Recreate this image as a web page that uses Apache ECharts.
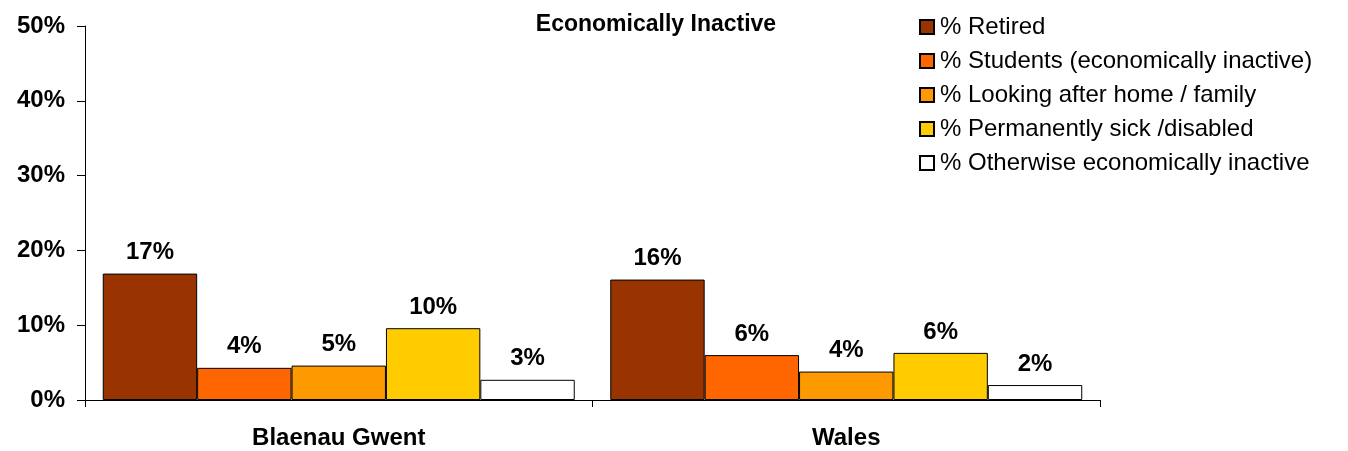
<!DOCTYPE html>
<html><head><meta charset="utf-8">
<script src="https://cdn.jsdelivr.net/npm/echarts@6/dist/echarts.min.js"></script>
<style>html,body{margin:0;padding:0;background:#fff}#c{width:1348px;height:451px}</style>
</head><body><div id="c"></div>
<script>
const categories = ['Blaenau Gwent', 'Wales'];
const seriesNames = ['% Retired', '% Students (economically inactive)', '% Looking after home / family', '% Permanently sick /disabled', '% Otherwise economically inactive'];
const retired = [16.9, 16.1];
const students = [4.3, 6.0];
const lookingAfter = [4.6, 3.8];
const sick = [9.6, 6.3];
const otherwise = [2.7, 2.0];
const yTicks = [0, 10, 20, 30, 40, 50];
const colors = ['#993300', '#FF6600', '#FF9900', '#FFCC00', '#FFFFFF'];
const values = [retired, students, lookingAfter, sick, otherwise];

const FONT = 'Liberation Sans, Arial, sans-serif';
const chart = echarts.init(document.getElementById('c'));
chart.setOption({
  animation: false,
  title: { text: 'Economically Inactive', left: 651, top: 8, textAlign: 'center',
    textStyle: { fontFamily: FONT, fontWeight: 'bold', fontSize: 23, color: '#000' } },
  legend: {
    orient: 'vertical', left: 914, top: 10, itemWidth: 14, itemHeight: 14, itemGap: 10, icon: 'rect',
    textStyle: { fontFamily: FONT, fontSize: 24, color: '#000', padding: [0,0,0,1] },
    data: seriesNames
  },
  grid: { left: 85, right: 248, top: 26, bottom: 51, containLabel: false },
  xAxis: {
    type: 'category', data: categories,
    axisLine: { lineStyle: { color: '#000', width: 1 } },
    axisTick: { show: true, length: 7, lineStyle: { color: '#000' } },
    axisLabel: { fontFamily: FONT, fontWeight: 'bold', fontSize: 24, color: '#000', margin: 26 }
  },
  yAxis: {
    type: 'value', min: yTicks[0], max: yTicks[yTicks.length-1], interval: 10,
    axisLine: { show: true, lineStyle: { color: '#000', width: 1 } },
    axisTick: { show: true, length: 8, lineStyle: { color: '#000' } },
    splitLine: { show: false },
    axisLabel: { fontFamily: FONT, fontWeight: 'bold', fontSize: 24, color: '#000', margin: 20,
      formatter: v => v + '%' }
  },
  series: seriesNames.map((n, i) => ({
    name: n, type: 'bar', data: values[i],
    barGap: '0%', barCategoryGap: '7%',
    itemStyle: { color: colors[i], borderColor: '#000', borderWidth: 1 },
    label: { show: true, position: 'top', distance: 9, fontFamily: FONT, fontWeight: 'bold',
      fontSize: 24, color: '#000', formatter: p => Math.round(p.value) + '%' }
  }))
});
</script></body></html>
